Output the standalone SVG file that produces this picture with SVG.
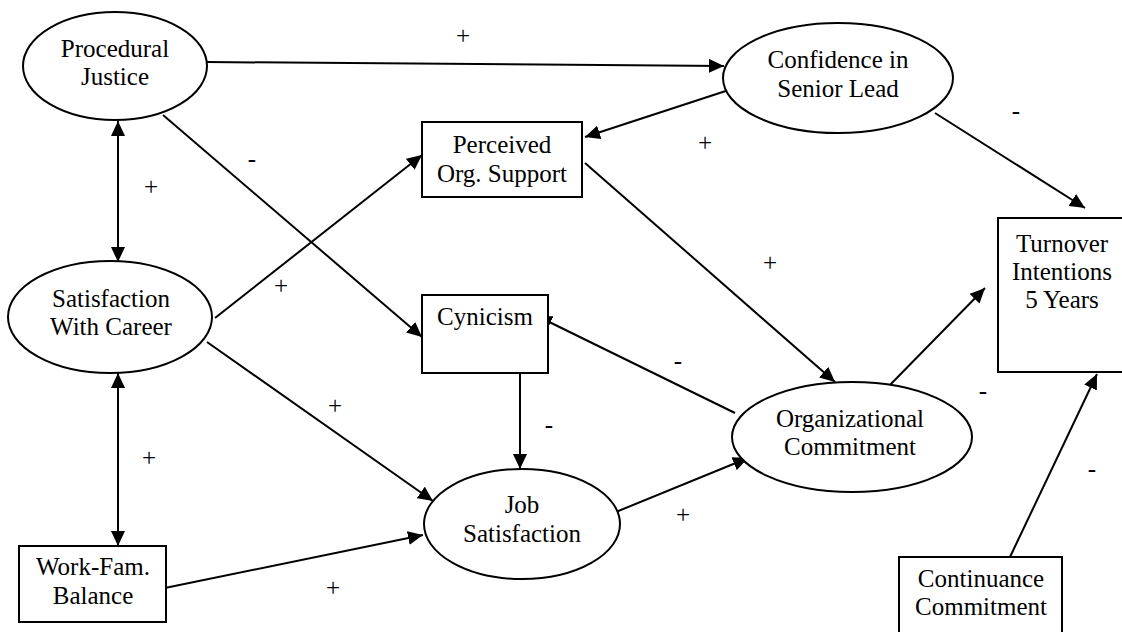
<svg xmlns="http://www.w3.org/2000/svg" width="1122" height="632" viewBox="0 0 1122 632">
<style>
.n{fill:#fff;stroke:#000;stroke-width:2}
.t{font-family:'Liberation Serif','Times New Roman',Times,'DejaVu Serif',serif;font-size:25px;fill:#000;text-anchor:middle}
.l{font-family:'Liberation Serif','Times New Roman',Times,'DejaVu Serif',serif;font-size:25px;fill:#000;text-anchor:middle}
.c{stroke:#000;stroke-width:2;fill:none;marker-end:url(#ah)}
.b{marker-start:url(#ah)}
</style>
<defs>
<marker id="ah" markerUnits="userSpaceOnUse" markerWidth="16" markerHeight="14" refX="15" refY="7" orient="auto-start-reverse">
<path d="M0,0 L15,7 L0,14 z" fill="#000"/>
</marker>
</defs>
<rect width="1122" height="632" fill="#fff"/>
<g id="connectors">
<line class="c" x1="207" y1="62" x2="724" y2="66"/>
<line class="c" x1="738" y1="87" x2="585" y2="137"/>
<line class="c" x1="935" y1="113" x2="1085" y2="208"/>
<line class="c b" x1="118" y1="121" x2="118" y2="262"/>
<line class="c" x1="163" y1="115" x2="422" y2="337"/>
<line class="c" x1="215" y1="318" x2="422" y2="155"/>
<line class="c" x1="207" y1="342" x2="433" y2="501"/>
<line class="c b" x1="118" y1="373" x2="118" y2="546"/>
<line class="c" x1="160" y1="589" x2="423" y2="535"/>
<line class="c" x1="585" y1="163" x2="835" y2="382"/>
<line class="c" x1="520" y1="373" x2="520" y2="469"/>
<line class="c" x1="735" y1="413" x2="537" y2="316"/>
<line class="c" x1="611" y1="514" x2="748" y2="458"/>
<line class="c" x1="887" y1="388" x2="985" y2="288"/>
<line class="c" x1="1010" y1="557" x2="1097" y2="374"/>
</g>
<g id="n-proc">
<ellipse class="n" cx="115" cy="66" rx="92" ry="54"/>
<text class="t" x="115" y="57">Procedural</text>
<text class="t" x="115" y="85">Justice</text>
</g>
<g id="n-conf">
<ellipse class="n" cx="838" cy="78" rx="115" ry="55"/>
<text class="t" x="838" y="68">Confidence in</text>
<text class="t" x="838" y="97">Senior Lead</text>
</g>
<g id="n-pos">
<rect class="n" x="422" y="122" width="160" height="75"/>
<text class="t" x="502" y="153">Perceived</text>
<text class="t" x="502" y="182">Org. Support</text>
</g>
<g id="n-swc">
<ellipse class="n" cx="110" cy="317" rx="102" ry="56"/>
<text class="t" x="111" y="307">Satisfaction</text>
<text class="t" x="111" y="335">With Career</text>
</g>
<g id="n-cyn">
<rect class="n" x="422" y="295" width="126" height="78"/>
<text class="t" x="485" y="325">Cynicism</text>
</g>
<g id="n-turn">
<rect class="n" x="998" y="218" width="130" height="154"/>
<text class="t" x="1062" y="252">Turnover</text>
<text class="t" x="1062" y="280">Intentions</text>
<text class="t" x="1062" y="308">5 Years</text>
</g>
<g id="n-org">
<ellipse class="n" cx="852" cy="437" rx="120" ry="55"/>
<text class="t" x="850" y="427">Organizational</text>
<text class="t" x="850" y="455">Commitment</text>
</g>
<g id="n-job">
<ellipse class="n" cx="522" cy="524" rx="98" ry="55"/>
<text class="t" x="522" y="513">Job</text>
<text class="t" x="522" y="542">Satisfaction</text>
</g>
<g id="n-wfb">
<rect class="n" x="19" y="546" width="147" height="76"/>
<text class="t" x="93" y="575">Work-Fam.</text>
<text class="t" x="93" y="604">Balance</text>
</g>
<g id="n-cont">
<rect class="n" x="899" y="557" width="163" height="90"/>
<text class="t" x="981" y="587">Continuance</text>
<text class="t" x="981" y="615">Commitment</text>
</g>
<g id="labels">
<text class="l" x="463" y="44">+</text>
<text class="l" x="252" y="167">-</text>
<text class="l" x="151" y="195">+</text>
<text class="l" x="705" y="151">+</text>
<text class="l" x="1016" y="119">-</text>
<text class="l" x="281" y="294">+</text>
<text class="l" x="770" y="271">+</text>
<text class="l" x="678" y="369">-</text>
<text class="l" x="335" y="414">+</text>
<text class="l" x="549" y="433">-</text>
<text class="l" x="983" y="399">-</text>
<text class="l" x="149" y="466">+</text>
<text class="l" x="683" y="523">+</text>
<text class="l" x="1092" y="477">-</text>
<text class="l" x="333" y="596">+</text>
</g>
</svg>
